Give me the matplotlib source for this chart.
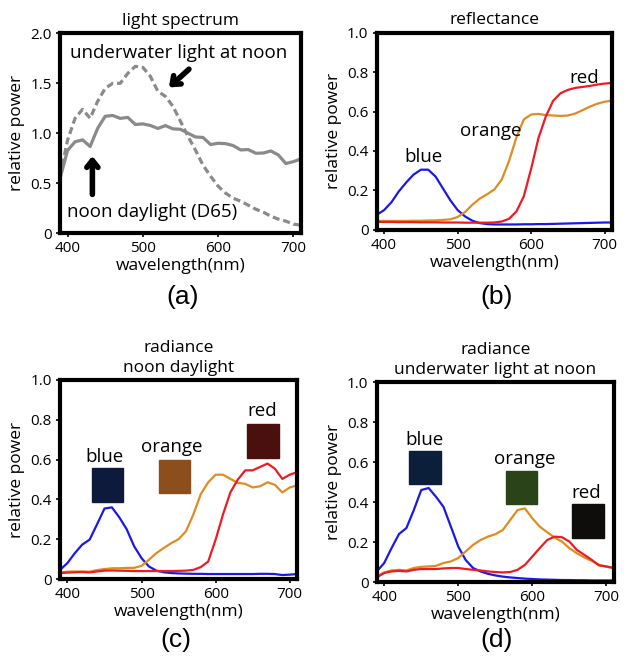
import matplotlib.pyplot as plt
from matplotlib.patches import Rectangle
from matplotlib.ticker import FuncFormatter

plt.rcParams['font.family'] = ['Open Sans', 'DejaVu Sans']

wavelength = list(range(390, 711, 10))

# (a) light spectrum
d65 = [0.546, 0.828, 0.915, 0.934, 0.867, 1.049, 1.170, 1.178, 1.149, 1.159, 1.088,
       1.094, 1.078, 1.048, 1.077, 1.044, 1.040, 1.000, 0.963, 0.958, 0.887, 0.900,
       0.896, 0.877, 0.833, 0.837, 0.800, 0.802, 0.823, 0.783, 0.697, 0.716, 0.743]
underwater = [0.57, 0.93, 1.15, 1.24, 1.15, 1.32, 1.45, 1.50, 1.50, 1.60, 1.67,
              1.66, 1.57, 1.42, 1.37, 1.27, 1.12, 0.97, 0.83, 0.68, 0.57, 0.47,
              0.40, 0.35, 0.32, 0.28, 0.24, 0.21, 0.17, 0.14, 0.12, 0.09, 0.08]

# (b) reflectance
refl_blue = [0.076, 0.10, 0.14, 0.195, 0.24, 0.28, 0.305, 0.305, 0.27, 0.21, 0.15,
             0.10, 0.068, 0.046, 0.034, 0.029, 0.027, 0.027, 0.027, 0.027, 0.028, 0.028,
             0.029, 0.029, 0.030, 0.031, 0.032, 0.033, 0.034, 0.035, 0.036, 0.037, 0.037]
refl_orange = [0.045, 0.045, 0.045, 0.045, 0.045, 0.046, 0.046, 0.047, 0.048, 0.050, 0.053,
               0.065, 0.09, 0.127, 0.158, 0.18, 0.205, 0.255, 0.35, 0.47, 0.56, 0.585,
               0.588, 0.582, 0.58, 0.578, 0.58, 0.59, 0.607, 0.625, 0.64, 0.65, 0.655]
refl_red = [0.040, 0.040, 0.040, 0.039, 0.039, 0.039, 0.038, 0.038, 0.038, 0.037, 0.037,
            0.037, 0.036, 0.036, 0.036, 0.036, 0.037, 0.042, 0.056, 0.093, 0.17, 0.31,
            0.466, 0.576, 0.655, 0.693, 0.71, 0.72, 0.725, 0.73, 0.737, 0.742, 0.745]

# (c) radiance, noon daylight
day_blue = [0.046, 0.08, 0.13, 0.173, 0.198, 0.275, 0.354, 0.36, 0.31, 0.25, 0.165,
            0.105, 0.063, 0.042, 0.034, 0.03, 0.028, 0.027, 0.026, 0.026, 0.025, 0.025,
            0.025, 0.025, 0.025, 0.025, 0.025, 0.026, 0.026, 0.025, 0.02, 0.022, 0.025]
day_orange = [0.032, 0.037, 0.038, 0.038, 0.037, 0.045, 0.05, 0.054, 0.054, 0.056, 0.056,
              0.066, 0.097, 0.13, 0.156, 0.18, 0.20, 0.24, 0.325, 0.427, 0.486, 0.524,
              0.524, 0.503, 0.483, 0.478, 0.46, 0.466, 0.486, 0.473, 0.435, 0.46, 0.47]
day_red = [0.03, 0.032, 0.034, 0.035, 0.033, 0.038, 0.042, 0.043, 0.042, 0.041, 0.04,
           0.04, 0.04, 0.04, 0.04, 0.04, 0.041, 0.042, 0.046, 0.06, 0.088, 0.198,
           0.325, 0.436, 0.50, 0.546, 0.546, 0.563, 0.58, 0.554, 0.503, 0.524, 0.537]

# (d) radiance, underwater light at noon
uw_blue = [0.053, 0.095, 0.17, 0.24, 0.27, 0.36, 0.46, 0.47, 0.426, 0.376, 0.277,
           0.177, 0.11, 0.07, 0.053, 0.041, 0.033, 0.027, 0.023, 0.02, 0.017, 0.015,
           0.013, 0.012, 0.011, 0.01, 0.01, 0.009, 0.009, 0.008, 0.008, 0.008, 0.008]
uw_orange = [0.028, 0.048, 0.058, 0.061, 0.058, 0.07, 0.076, 0.078, 0.081, 0.095, 0.103,
             0.12, 0.153, 0.186, 0.21, 0.227, 0.239, 0.26, 0.31, 0.36, 0.368, 0.318,
             0.277, 0.249, 0.222, 0.202, 0.169, 0.144, 0.123, 0.106, 0.086, 0.076, 0.07]
uw_red = [0.023, 0.045, 0.053, 0.056, 0.053, 0.061, 0.065, 0.065, 0.065, 0.068, 0.07,
          0.07, 0.065, 0.061, 0.058, 0.053, 0.05, 0.048, 0.05, 0.061, 0.086, 0.128,
          0.17, 0.21, 0.227, 0.224, 0.202, 0.161, 0.136, 0.111, 0.083, 0.078, 0.07]

BLUE = '#1a1ae6'
ORANGE = '#e08c22'
RED = '#ec1c24'
GRAY = '#8a8a8a'
FS = 12.5
LFS = 13.5


def fmt(v, pos):
    return '0' if abs(v) < 1e-9 else f'{v:.1f}'


def style(ax, ymax, yticks):
    ax.set_xlim(390, 710)
    ax.set_ylim(0, ymax)
    ax.set_xticks([400, 500, 600, 700])
    ax.set_yticks(yticks)
    ax.yaxis.set_major_formatter(FuncFormatter(fmt))
    for s in ax.spines.values():
        s.set_linewidth(3)
    ax.tick_params(direction='out', length=3, width=1.2, labelsize=11, pad=3)
    ax.set_xlabel('wavelength(nm)', fontsize=FS, labelpad=1)
    ax.set_ylabel('relative power', fontsize=FS, labelpad=4)


fig = plt.figure(figsize=(6.29, 6.68), dpi=100)

# (a)
ax = fig.add_axes([0.0954, 0.651, 0.383, 0.299])
ax.plot(wavelength, d65, color=GRAY, lw=2.3)
ax.plot(wavelength, underwater, color=GRAY, lw=2.3, ls=(0, (2.2, 1.2)))
style(ax, 2.0, [0, 0.5, 1.0, 1.5, 2.0])
ax.set_title('light spectrum', fontsize=FS, pad=6)
ax.text(548, 1.8, 'underwater light at noon', fontsize=LFS, ha='center', va='center')
ax.text(512, 0.21, 'noon daylight (D65)', fontsize=LFS, ha='center', va='center')
arrow = dict(arrowstyle='->, head_width=0.4, head_length=0.5', lw=4, color='black')
ax.annotate('', xy=(433, 0.80), xytext=(433, 0.36), arrowprops=arrow)
ax.annotate('', xy=(532, 1.44), xytext=(564, 1.66), arrowprops=arrow)

# (b)
ax = fig.add_axes([0.599, 0.656, 0.374, 0.295])
ax.plot(wavelength, refl_blue, color=BLUE, lw=1.6)
ax.plot(wavelength, refl_orange, color=ORANGE, lw=1.6)
ax.plot(wavelength, refl_red, color=RED, lw=1.6)
style(ax, 1.0, [0, 0.2, 0.4, 0.6, 0.8, 1.0])
ax.set_title('reflectance', fontsize=FS, pad=6)
ax.text(454, 0.37, 'blue', fontsize=LFS, ha='center', va='center')
ax.text(545, 0.50, 'orange', fontsize=LFS, ha='center', va='center')
ax.text(672, 0.77, 'red', fontsize=LFS, ha='center', va='center')

# (c)
ax = fig.add_axes([0.0954, 0.1332, 0.377, 0.298])
ax.plot(wavelength, day_blue, color=BLUE, lw=1.6)
ax.plot(wavelength, day_orange, color=ORANGE, lw=1.6)
ax.plot(wavelength, day_red, color=RED, lw=1.6)
style(ax, 1.0, [0, 0.2, 0.4, 0.6, 0.8, 1.0])
ax.set_title('radiance\nnoon daylight', fontsize=FS, pad=6, linespacing=1.3)
for (x0, y0, c) in [(433, 0.388, '#0e1a3c'), (524, 0.43, '#8c4e1c'), (643, 0.608, '#4a100e')]:
    ax.add_patch(Rectangle((x0, y0), 42, 0.17, color=c, zorder=3))
ax.text(450, 0.613, 'blue', fontsize=LFS, ha='center', va='center')
ax.text(541, 0.664, 'orange', fontsize=LFS, ha='center', va='center')
ax.text(663, 0.842, 'red', fontsize=LFS, ha='center', va='center')

# (d)
ax = fig.add_axes([0.599, 0.1287, 0.377, 0.2994])
ax.plot(wavelength, uw_blue, color=BLUE, lw=1.6)
ax.plot(wavelength, uw_orange, color=ORANGE, lw=1.6)
ax.plot(wavelength, uw_red, color=RED, lw=1.6)
style(ax, 1.0, [0, 0.2, 0.4, 0.6, 0.8, 1.0])
ax.set_title('radiance\nunderwater light at noon', fontsize=FS, pad=6, linespacing=1.3)
for (x0, y0, c) in [(434, 0.488, '#0c1f3a'), (564, 0.39, '#2a4318'), (654, 0.222, '#0f0d0b')]:
    ax.add_patch(Rectangle((x0, y0), 42, 0.166, color=c, zorder=3))
ax.text(455, 0.708, 'blue', fontsize=LFS, ha='center', va='center')
ax.text(590, 0.617, 'orange', fontsize=LFS, ha='center', va='center')
ax.text(673, 0.443, 'red', fontsize=LFS, ha='center', va='center')

for (x, y, s) in [(0.291, 0.555, '(a)'), (0.79, 0.555, '(b)'),
                  (0.28, 0.042, '(c)'), (0.79, 0.042, '(d)')]:
    fig.text(x, y, s, fontsize=19, ha='center', va='center', family='Liberation Sans')

fig.savefig('out.png', dpi=100)
